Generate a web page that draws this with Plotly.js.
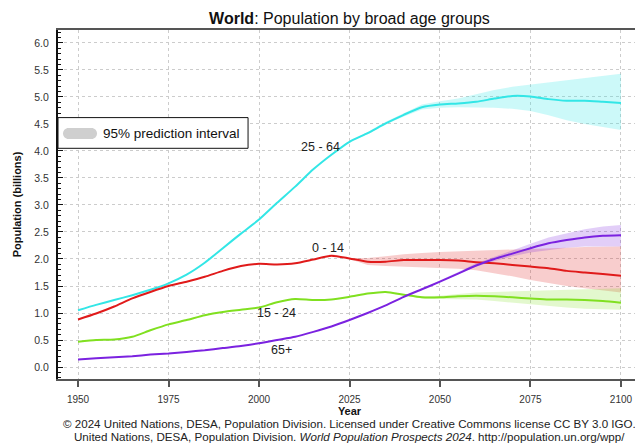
<!DOCTYPE html>
<html>
<head>
<meta charset="utf-8">
<script src="https://cdn.plot.ly/plotly-3.0.1.min.js"></script>
<style>
  html, body { margin: 0; padding: 0; overflow: hidden; background: #fff; }
  #chart { width: 660px; height: 444px; }
</style>
</head>
<body>
<div id="chart"></div>
<script>
// World population by broad age group, billions (medium variant after 2024)
const years = [1950,1955,1960,1965,1970,1975,1980,1985,1990,1995,2000,2005,2010,2015,2020,
               2025,2030,2035,2040,2045,2050,2055,2060,2065,2070,2075,2080,2085,2090,2095,2100];

const age0to14 = [0.88,0.99,1.12,1.27,1.39,1.50,1.58,1.67,1.78,1.87,1.91,1.90,1.92,1.99,2.06,
                  2.01,1.95,1.95,1.98,1.98,1.98,1.97,1.94,1.92,1.89,1.86,1.83,1.78,1.75,1.72,1.69];
const age15to24 = [0.47,0.50,0.51,0.56,0.68,0.79,0.87,0.96,1.02,1.06,1.10,1.20,1.26,1.24,1.25,
                   1.30,1.36,1.39,1.34,1.29,1.29,1.31,1.32,1.31,1.29,1.27,1.25,1.25,1.24,1.22,1.19];
const age25to64 = [1.05,1.15,1.24,1.33,1.43,1.55,1.71,1.93,2.20,2.47,2.73,3.04,3.34,3.66,3.93,
                   4.17,4.33,4.51,4.67,4.81,4.86,4.88,4.91,4.97,5.02,5.01,4.96,4.93,4.93,4.91,4.89];
const age65plus = [0.14,0.16,0.18,0.20,0.23,0.25,0.28,0.31,0.35,0.39,0.44,0.50,0.56,0.65,0.75,
                   0.87,1.00,1.14,1.30,1.44,1.58,1.73,1.88,2.00,2.10,2.20,2.29,2.35,2.40,2.43,2.44];

// 95% prediction intervals for the projection period
const bandYears = [2025,2030,2035,2040,2045,2050,2055,2060,2065,2070,2075,2080,2085,2090,2095,2100];
const lo0to14  = [2.00,1.89,1.87,1.86,1.85,1.84,1.82,1.79,1.74,1.68,1.61,1.55,1.50,1.46,1.42,1.38];
const hi0to14  = [2.02,2.02,2.05,2.09,2.11,2.13,2.14,2.15,2.16,2.18,2.19,2.20,2.21,2.22,2.23,2.23];
const lo15to24 = [1.29,1.35,1.38,1.32,1.27,1.26,1.26,1.25,1.22,1.19,1.15,1.12,1.10,1.08,1.07,1.06];
const hi15to24 = [1.31,1.37,1.40,1.36,1.31,1.32,1.35,1.38,1.40,1.41,1.41,1.42,1.43,1.44,1.45,1.46];
const lo25to64 = [4.16,4.31,4.49,4.64,4.77,4.80,4.81,4.81,4.80,4.78,4.74,4.66,4.57,4.50,4.44,4.39];
const hi25to64 = [4.18,4.35,4.54,4.70,4.86,4.92,4.97,5.05,5.13,5.19,5.23,5.27,5.31,5.35,5.39,5.43];
const lo65plus = [0.86,0.99,1.13,1.29,1.43,1.57,1.71,1.86,1.96,2.05,2.12,2.17,2.21,2.23,2.23,2.23];
const hi65plus = [0.88,1.01,1.15,1.31,1.45,1.60,1.76,1.92,2.05,2.16,2.28,2.40,2.48,2.55,2.60,2.63];

const groupLabels = ['25 - 64', '0 - 14', '15 - 24', '65+'];
const xTicks = [1950, 1975, 2000, 2025, 2050, 2075, 2100];

const FONT = 'Liberation Sans, Arial, sans-serif';
const colors = {
  c25: '#33e6e6', c0: '#e01a1a', c15: '#80e020', c65: '#7b22e0'
};

function band(lo, hi, fill) {
  return {
    x: bandYears.concat(bandYears.slice().reverse()),
    y: lo.concat(hi.slice().reverse()),
    type: 'scatter', mode: 'lines', fill: 'toself',
    fillcolor: fill, line: {width: 0}, hoverinfo: 'skip', showlegend: false
  };
}
function line(y, color) {
  return {
    x: years, y: y, type: 'scatter', mode: 'lines',
    line: {color: color, width: 2, shape: 'spline', smoothing: 0.6},
    hoverinfo: 'skip', showlegend: false
  };
}

const traces = [
  band(lo25to64, hi25to64, 'rgba(51,230,230,0.25)'),
  band(lo0to14, hi0to14, 'rgba(224,26,26,0.22)'),
  band(lo15to24, hi15to24, 'rgba(128,224,32,0.22)'),
  band(lo65plus, hi65plus, 'rgba(123,34,224,0.22)'),
  line(age25to64, colors.c25),
  line(age0to14, colors.c0),
  line(age15to24, colors.c15),
  line(age65plus, colors.c65)
];

// rounded swatch for the interval key, in pixels from the left edge of the plot
const k = 0.55 * 5.5;
const pill = `M 10.5,-5.5 H 33.5 C ${33.5 + k},-5.5 39,${-k} 39,0 C 39,${k} ${33.5 + k},5.5 33.5,5.5 ` +
             `H 10.5 C ${10.5 - k},5.5 5,${k} 5,0 C 5,${-k} ${10.5 - k},-5.5 10.5,-5.5 Z`;

const labelFont = {family: FONT, size: 12.5, color: '#222'};
const footFont = {family: FONT, size: 11.6, color: '#222'};

const layout = {
  width: 660, height: 444,
  margin: {l: 58, r: 19, t: 30, b: 65},
  paper_bgcolor: '#fff', plot_bgcolor: '#fff',
  font: {family: FONT, size: 10, color: '#333'},
  showlegend: false,
  title: {
    text: '<b>World</b>: Population by broad age groups',
    font: {family: FONT, size: 16, color: '#111'},
    x: 0.5, xref: 'paper', xanchor: 'center',
    y: 1 - 18 / 444, yref: 'container', yanchor: 'middle'
  },
  xaxis: {
    range: [1944.47, 2105.53],
    tickvals: xTicks, ticktext: xTicks.map(String),
    ticks: 'outside', ticklen: 6, tickwidth: 2, tickcolor: '#555',
    tickfont: {family: FONT, size: 10, color: '#333'},
    ticklabelstandoff: 4,
    showline: true, linecolor: '#555', linewidth: 2, mirror: true,
    showgrid: true, gridcolor: '#cccccc', gridwidth: 1, griddash: 'dot',
    zeroline: false,
    title: {text: '<b>Year</b>', font: {family: FONT, size: 11, color: '#111'}, standoff: 0}
  },
  yaxis: {
    range: [-0.222, 6.24],
    tick0: 0, dtick: 0.5, tickformat: '.1f',
    ticks: 'inside', ticklen: 5, tickwidth: 1, tickcolor: '#111',
    minor: {dtick: 0.1, ticks: 'inside', ticklen: 3, tickcolor: '#111', showgrid: false},
    tickfont: {family: FONT, size: 10.5, color: '#333'},
    ticklabelstandoff: 5,
    showline: true, linecolor: '#111', linewidth: 2, mirror: true,
    showgrid: true, gridcolor: '#cccccc', gridwidth: 1, griddash: 'dot',
    zeroline: false,
    title: {text: '<b>Population (billions)</b>', font: {family: FONT, size: 11, color: '#111'}, standoff: 10}
  },
  shapes: [
    {type: 'rect', xref: 'paper', yref: 'paper', x0: 0, x1: 0.326, y0: 0.661, y1: 0.749,
     line: {color: '#111', width: 1}, fillcolor: '#fff', layer: 'above'},
    {type: 'path', xref: 'paper', yref: 'paper', xsizemode: 'pixel', ysizemode: 'pixel',
     xanchor: 0, yanchor: 0.7034, path: pill,
     line: {width: 0}, fillcolor: '#cfcfcf', layer: 'above'}
  ],
  annotations: [
    {text: '95% prediction interval', xref: 'paper', yref: 'paper', x: 0.0738, y: 0.7034,
     xanchor: 'left', yanchor: 'middle', showarrow: false,
     font: {family: FONT, size: 13.5, color: '#111'}},
    {text: groupLabels[0], x: 2016.9, y: 4.08, showarrow: false, font: labelFont},
    {text: groupLabels[1], x: 2019.1, y: 2.20, showarrow: false, font: labelFont},
    {text: groupLabels[2], x: 2004.8, y: 1.00, showarrow: false, font: labelFont},
    {text: groupLabels[3], x: 2006.1, y: 0.315, showarrow: false, font: labelFont},
    {text: '\u00a9 2024 United Nations, DESA, Population Division. Licensed under Creative Commons license CC BY 3.0 IGO.',
     xref: 'paper', yref: 'paper', x: 0.5, y: -0.1275, xanchor: 'center', yanchor: 'middle',
     showarrow: false, font: footFont},
    {text: 'United Nations, DESA, Population Division. <i>World Population Prospects 2024</i>. http://population.un.org/wpp/',
     xref: 'paper', yref: 'paper', x: 0.5, y: -0.1648, xanchor: 'center', yanchor: 'middle',
     showarrow: false, font: footFont}
  ]
};

Plotly.newPlot('chart', traces, layout, {displayModeBar: false, staticPlot: true});
</script>
</body>
</html>
